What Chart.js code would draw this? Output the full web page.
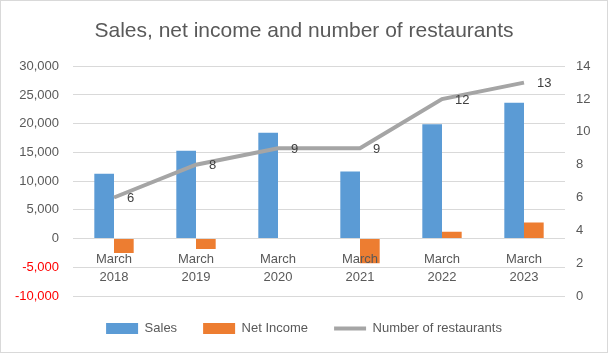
<!DOCTYPE html>
<html>
<head>
<meta charset="utf-8">
<script src="https://cdn.jsdelivr.net/npm/chart.js"></script>
<style>
  body { margin: 0; background: #fff; }
  canvas { display: block; }
</style>
</head>
<body>
<canvas id="chart" width="608" height="353"></canvas>
<script>
// значения
const years = [['March', '2018'], ['March', '2019'], ['March', '2020'], ['March', '2021'], ['March', '2022'], ['March', '2023']];
const sales = [11300, 15300, 18400, 11650, 19900, 23650];
const netIncome = [-2500, -1800, 0, -4300, 1200, 2800];
const restaurants = [6, 8, 9, 9, 12, 13];

const FONT = 'Liberation Sans';
const GREY_TEXT = '#595959';

// подписи значений у линии
const lineLabels = {
    id: 'lineLabels',
    afterDatasetsDraw(chart) {
        const ctx = chart.ctx;
        const meta = chart.getDatasetMeta(2);
        ctx.save();
        ctx.font = '13px ' + FONT;
        ctx.fillStyle = '#404040';
        ctx.textAlign = 'left';
        ctx.textBaseline = 'middle';
        meta.data.forEach((pt, i) => {
            ctx.fillText(String(restaurants[i]), pt.x + 13, pt.y + 1);
        });
        ctx.restore();
    }
};

// белый фон и рамка
const frame = {
    id: 'frame',
    beforeDraw(chart) {
        const ctx = chart.ctx;
        ctx.save();
        ctx.fillStyle = '#ffffff';
        ctx.fillRect(0, 0, chart.width, chart.height);
        ctx.strokeStyle = '#d9d9d9';
        ctx.lineWidth = 1;
        ctx.strokeRect(0.5, 0.5, chart.width - 1, chart.height - 1);
        ctx.restore();
    }
};

new Chart(document.getElementById('chart'), {
    type: 'bar',
    data: {
        labels: years,
        datasets: [{
            label: 'Sales',
            data: sales,
            backgroundColor: '#5B9BD5',
            borderWidth: 0,
            pointStyle: 'rect',
            yAxisID: 'y',
            order: 1
        }, {
            label: 'Net Income',
            data: netIncome,
            backgroundColor: '#ED7D31',
            borderWidth: 0,
            pointStyle: 'rect',
            yAxisID: 'y',
            order: 1
        }, {
            type: 'line',
            label: 'Number of restaurants',
            data: restaurants,
            borderColor: '#A5A5A5',
            backgroundColor: '#A5A5A5',
            borderWidth: 4,
            pointRadius: 0,
            pointStyle: 'line',
            tension: 0,
            yAxisID: 'y1',
            order: 0
        }]
    },
    options: {
        responsive: false,
        devicePixelRatio: 1,
        animation: false,
        categoryPercentage: 0.48,
        barPercentage: 1,
        layout: { padding: { left: 0, right: 0, top: 0, bottom: 8 } },
        plugins: {
            tooltip: { enabled: false },
            title: {
                display: true,
                text: 'Sales, net income and number of restaurants',
                color: GREY_TEXT,
                font: { family: FONT, size: 21, weight: 'normal' },
                padding: { top: 19, bottom: 22 }
            },
            legend: {
                position: 'bottom',
                labels: {
                    sort: (a, b) => a.datasetIndex - b.datasetIndex,
                    usePointStyle: true,
                    pointStyleWidth: 32,
                    boxHeight: 11,
                    padding: 26,
                    color: GREY_TEXT,
                    font: { family: FONT, size: 13 }
                }
            }
        },
        scales: {
            x: {
                position: { y: 0 },
                grid: { display: false },
                border: { display: false },
                ticks: {
                    z: 1, // подписи поверх столбиков
                    color: GREY_TEXT,
                    padding: 4,
                    maxRotation: 0,
                    font: { family: FONT, size: 13, lineHeight: 1.38 }
                },
                afterFit(scale) { scale.height = 0; }
            },
            y: {
                position: 'left',
                min: -10000,
                max: 30000,
                grid: { color: '#d9d9d9', drawTicks: false },
                border: { display: false },
                ticks: {
                    stepSize: 5000,
                    padding: 14,
                    font: { family: FONT, size: 13 },
                    color: ctx => ctx.tick && ctx.tick.value < 0 ? '#FF0000' : GREY_TEXT,
                    callback: v => v.toLocaleString('en-US')
                },
                afterFit(scale) { scale.width = 73; }
            },
            y1: {
                position: 'right',
                min: 0,
                max: 14,
                grid: { display: false, drawTicks: false },
                border: { display: false },
                ticks: {
                    stepSize: 2,
                    padding: 11,
                    color: GREY_TEXT,
                    font: { family: FONT, size: 13 }
                },
                afterFit(scale) { scale.width = 43; }
            }
        }
    },
    plugins: [frame, lineLabels]
});
</script>
</body>
</html>
